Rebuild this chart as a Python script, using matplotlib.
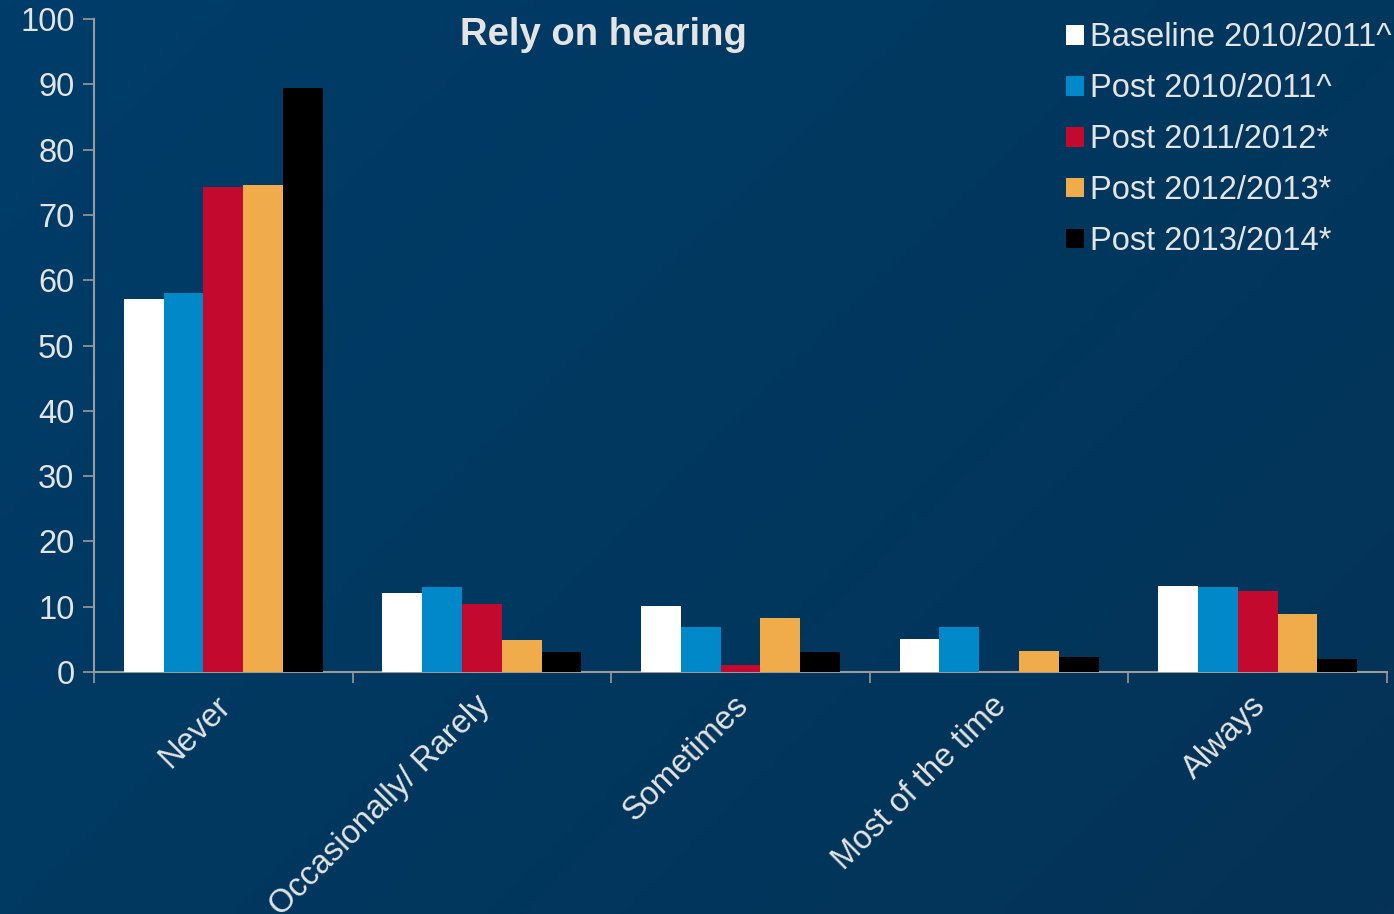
import numpy as np
import matplotlib.pyplot as plt
import matplotlib.transforms as mtransforms
from matplotlib.patches import Patch
from matplotlib.colors import LinearSegmentedColormap

# response categories and survey rounds
categories = ['Never', 'Occasionally/ Rarely', 'Sometimes', 'Most of the time', 'Always']
series_names = ['Baseline 2010/2011^', 'Post 2010/2011^', 'Post 2011/2012*',
                'Post 2012/2013*', 'Post 2013/2014*']
series_colors = ['#ffffff', '#0088c8', '#c30a2e', '#f0ac4b', '#000000']

# percentages per survey round
baseline_1011 = [57.1, 12.1, 10.1, 5.1, 13.2]
post_1011 = [58.0, 13.0, 6.9, 6.9, 13.0]
post_1112 = [74.3, 10.4, 1.1, 0.0, 12.4]
post_1213 = [74.6, 4.9, 8.3, 3.2, 8.9]
post_1314 = [89.4, 3.1, 3.1, 2.3, 2.0]
values = [baseline_1011, post_1011, post_1112, post_1213, post_1314]

plt.rcParams['font.family'] = ['Liberation Sans', 'DejaVu Sans']
text_col = '#e4e4e4'
axis_col = '#9a9a9a'

fig = plt.figure(figsize=(13.94, 9.14), dpi=100)

# soft navy gradient background
bg = fig.add_axes([0, 0, 1, 1], zorder=-1)
gy, gx = np.mgrid[0:1:200j, 0:1:200j]
shade = 0.6 * gx + 0.4 * gy
cmap = LinearSegmentedColormap.from_list('navy', ['#003d6a', '#01385f', '#053256'])
bg.imshow(shade, cmap=cmap, aspect='auto', extent=[0, 1, 0, 1], origin='upper')
bg.axis('off')

ax = fig.add_axes([0.0674, 0.2648, 0.9276, 0.7142])
ax.patch.set_alpha(0)

x = np.arange(len(categories))
bar_w = 0.154
for i, (vals, col) in enumerate(zip(values, series_colors)):
    ax.bar(x + (i - 2) * bar_w, vals, width=bar_w, color=col, zorder=3)

ax.set_xlim(-0.5, len(categories) - 0.5)
ax.set_ylim(0, 100)
ax.set_yticks(range(0, 101, 10))
ax.tick_params(axis='y', colors=axis_col, labelcolor=text_col, labelsize=23.5,
               length=8, width=1.2, pad=6)

# category labels sit under the groups, tick marks at group borders
ax.set_xticks(np.arange(-0.5, len(categories)), minor=False)
ax.set_xticklabels([])
ax.set_xticks(x, minor=True)
ax.set_xticklabels(categories, minor=True, rotation=45, ha='right',
                   rotation_mode='anchor', fontsize=23.5, color=text_col)
ax.tick_params(axis='x', which='major', colors=axis_col, length=8, width=1.2)
ax.tick_params(axis='x', which='minor', length=0, pad=13)
nudge = mtransforms.ScaledTranslation(-0.08, 0, fig.dpi_scale_trans)
for lbl in ax.get_xticklabels(minor=True):
    lbl.set_transform(lbl.get_transform() + nudge)

for side in ['top', 'right']:
    ax.spines[side].set_visible(False)
for side in ['left', 'bottom']:
    ax.spines[side].set_color(axis_col)
    ax.spines[side].set_linewidth(1.5)

fig.text(0.433, 0.962, 'Rely on hearing', ha='center', va='center',
         fontsize=27.5, fontweight='bold', color=text_col)

handles = [Patch(facecolor=c, edgecolor='none', label=n)
           for n, c in zip(series_names, series_colors)]
leg = ax.legend(handles=handles, loc='upper left', bbox_to_anchor=(0.729, 1.04),
                frameon=False, fontsize=23.5, handlelength=0.55, handleheight=0.55,
                handletextpad=0.2, labelspacing=0.61, labelcolor=text_col)

fig.savefig('out.png', dpi=100)
